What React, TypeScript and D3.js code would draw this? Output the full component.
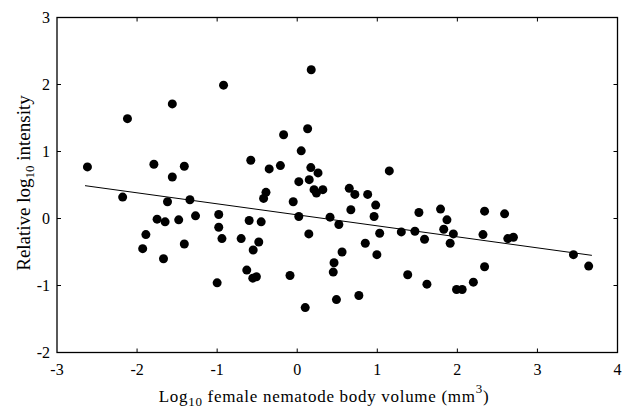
import React from "react";
import * as d3 from "d3";

const xs = [
  -2.62, -2.12, -2.18, -1.56, -1.79, -1.56, -1.41, -1.62, -1.34, -0.92,
  -0.58, -0.35, -0.39, -0.42, -0.17, -0.21, -0.05, 0.05, 0.175, 0.13,
  0.02, 0.17, 0.15, 0.26, 0.21, 0.24, 0.32, 0.65, 0.72, 0.88,
  0.98, 1.15, 0.67, 1.79, 2.34, 0.02, 0.145, 0.10, 0.41, 0.52,
  0.56, 0.46, 0.45, 0.49, 0.77, 0.85, 0.96, 1.03, 0.995, 1.30,
  1.47, 1.52, 1.59, 1.38, 1.62, 1.87, 1.83, 1.95, 1.91, 1.99,
  2.06, 2.20, 2.32, 2.34, 2.59, 2.63, 2.70, 3.45, 3.64, -1.75,
  -1.65, -1.48, -1.27, -1.89, -1.93, -1.67, -1.41, -0.98, -0.98, -0.94,
  -1.00, -0.70, -0.60, -0.45, -0.48, -0.55, -0.63, -0.555, -0.51, -0.09,
];
const ys = [
  0.77, 1.49, 0.32, 1.71, 0.81, 0.62, 0.78, 0.25, 0.28, 1.99,
  0.87, 0.74, 0.39, 0.30, 1.25, 0.79, 0.25, 1.01, 2.22, 1.34,
  0.55, 0.76, 0.58, 0.68, 0.43, 0.38, 0.43, 0.45, 0.36, 0.36,
  0.20, 0.71, 0.13, 0.14, 0.11, 0.03, -0.23, -1.33, 0.02, -0.09,
  -0.50, -0.66, -0.80, -1.21, -1.15, -0.37, 0.03, -0.22, -0.54, -0.20,
  -0.19, 0.09, -0.31, -0.84, -0.98, -0.02, -0.16, -0.23, -0.37, -1.06,
  -1.06, -0.95, -0.24, -0.72, 0.07, -0.30, -0.28, -0.54, -0.71, -0.01,
  -0.05, -0.02, 0.04, -0.24, -0.45, -0.60, -0.38, 0.06, -0.13, -0.30,
  -0.96, -0.30, -0.03, -0.05, -0.35, -0.47, -0.77, -0.89, -0.87, -0.85,
];
const fitX = [-2.65, 3.68];
const fitY = [0.49, -0.55];
const xTicks = [-3, -2, -1, 0, 1, 2, 3, 4];
const yTicks = [-2, -1, 0, 1, 2, 3];

const W = 624, H = 409;
const L = 57, R = 617.5, T = 17.5, B = 352.5;
const FONT = "Liberation Serif";

export default function App() {
  const x = d3.scaleLinear().domain([-3, 4]).range([L, R]);
  const y = d3.scaleLinear().domain([-2, 3]).range([B, T]);
  const line = d3.line<number>().x((_, i) => x(fitX[i])).y((_, i) => y(fitY[i]));
  const tk = 4;
  return (
    <svg width={W} height={H} style={{ position: "absolute", left: 0, top: 0, background: "#fff" }}>
      <rect x={L} y={T} width={R - L} height={B - T} fill="none" stroke="#000" strokeWidth={1.3} />
      {xTicks.slice(1, -1).map((t) => (
        <g key={"xt" + t}>
          <line x1={x(t)} x2={x(t)} y1={B} y2={B - tk} stroke="#000" />
          <line x1={x(t)} x2={x(t)} y1={T} y2={T + tk} stroke="#000" />
        </g>
      ))}
      {yTicks.slice(1, -1).map((t) => (
        <g key={"yt" + t}>
          <line x1={L} x2={L + tk} y1={y(t)} y2={y(t)} stroke="#000" />
          <line x1={R} x2={R - tk} y1={y(t)} y2={y(t)} stroke="#000" />
        </g>
      ))}
      {xTicks.map((t) => (
        <text key={"xl" + t} x={x(t)} y={B + 22} textAnchor="middle" style={{ fontFamily: FONT }} fontSize={16}>
          {t < 0 ? "-" + Math.abs(t) : String(t)}
        </text>
      ))}
      {yTicks.map((t) => (
        <text key={"yl" + t} x={L - 7} y={y(t) + 5.5} textAnchor="end" style={{ fontFamily: FONT }} fontSize={16}>
          {t < 0 ? "-" + Math.abs(t) : String(t)}
        </text>
      ))}
      <path d={line([0, 1]) || ""} fill="none" stroke="#000" strokeWidth={1} />
      {xs.map((v, i) => (
        <circle key={i} cx={x(v)} cy={y(ys[i])} r={4.5} fill="#000" />
      ))}
      <text x={324} y={402} textAnchor="middle" style={{ fontFamily: FONT }} fontSize={17} letterSpacing={0.7}>
        Log<tspan fontSize={13} dy={4}>10</tspan>
        <tspan dy={-4}> female nematode body volume (mm</tspan>
        <tspan fontSize={13} dy={-9}>3</tspan>
        <tspan dy={9}>)</tspan>
      </text>
      <text transform="translate(30,183) rotate(-90)" textAnchor="middle" style={{ fontFamily: FONT }} fontSize={19}>
        Relative log<tspan fontSize={13} dy={4}>10</tspan>
        <tspan dy={-4}> intensity</tspan>
      </text>
    </svg>
  );
}
